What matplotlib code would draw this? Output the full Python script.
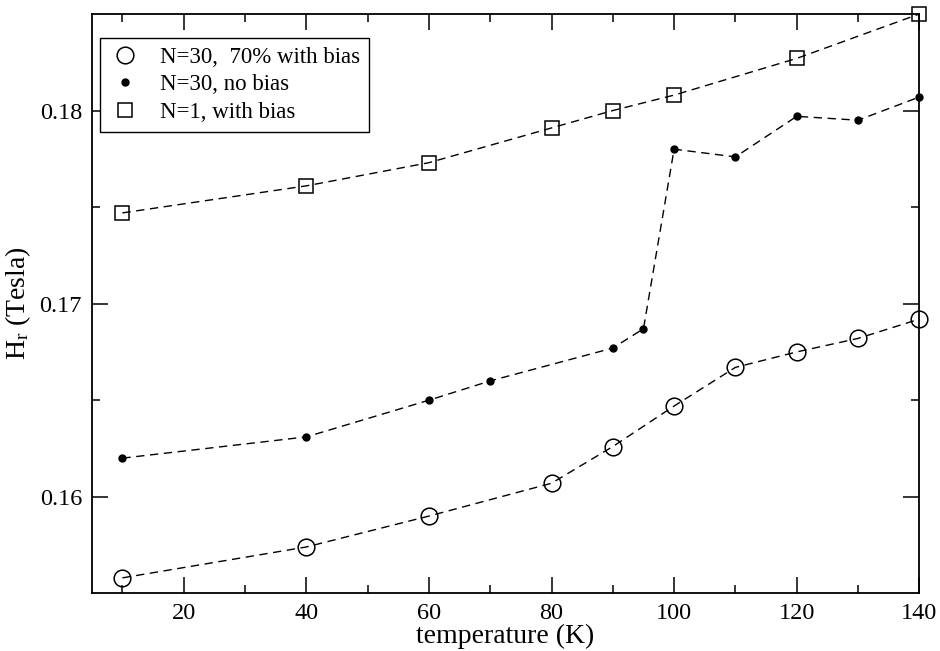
import matplotlib
matplotlib.use("Agg")
from matplotlib import pyplot as plt

# data
temp_bias30 = [10, 40, 60, 80, 90, 100, 110, 120, 130, 140]
hr_bias30 = [0.1558, 0.1574, 0.1590, 0.1607, 0.1626, 0.1647, 0.1667, 0.1675, 0.1682, 0.1692]

temp_nobias = [10, 40, 60, 70, 90, 95, 100, 110, 120, 130, 140]
hr_nobias = [0.1620, 0.1631, 0.1650, 0.1660, 0.1677, 0.1687, 0.1780, 0.1776, 0.1797, 0.1795, 0.1807]

temp_n1 = [10, 40, 60, 80, 90, 100, 120, 140]
hr_n1 = [0.1747, 0.1761, 0.1773, 0.1791, 0.1800, 0.1808, 0.1827, 0.1850]

plt.rcParams['font.family'] = ['Liberation Serif', 'DejaVu Serif']
plt.rcParams['mathtext.fontset'] = 'custom'
plt.rcParams['mathtext.rm'] = 'Liberation Serif'
plt.rcParams['mathtext.it'] = 'Liberation Serif:italic'

fig = plt.figure(figsize=(9.4, 6.51), dpi=100)
ax = fig.add_axes([0.0976, 0.0886, 0.8804, 0.8899])

dash = (0, (6, 4))
ax.plot(temp_bias30, hr_bias30, color='black', lw=1.0, linestyle=dash,
        marker='o', ms=12, mfc='none', mec='black', mew=1.1,
        label='N=30,  70% with bias', clip_on=False)
ax.plot(temp_nobias, hr_nobias, color='black', lw=1.0, linestyle=dash,
        marker='o', ms=5, mfc='black', mec='black',
        label='N=30, no bias', clip_on=False)
ax.plot(temp_n1, hr_n1, color='black', lw=1.0, linestyle=dash,
        marker='s', ms=10, mfc='none', mec='black', mew=1.1,
        label='N=1, with bias', clip_on=False)

ax.set_xlim(5, 140)
ax.set_ylim(0.155, 0.185)
ax.set_xticks([20, 40, 60, 80, 100, 120, 140])
ax.set_xticks(range(10, 140, 10), minor=True)
ax.set_yticks([0.16, 0.17, 0.18])
ax.set_yticks([0.165, 0.175], minor=True)

ax.tick_params(which='both', direction='in', top=True, right=True,
               labelsize=17.5, width=1.1, pad=7)
ax.tick_params(which='major', length=11.5)
ax.tick_params(which='minor', length=6)
for s in ax.spines.values():
    s.set_linewidth(1.3)

ax.set_xlabel("temperature (K)", fontsize=20, labelpad=0)
ax.set_ylabel(r"H$_\mathrm{r}$ (Tesla)", fontsize=20, labelpad=5)

leg = ax.legend(loc='upper left', bbox_to_anchor=(0.010, 0.9586),
                borderaxespad=0, fontsize=16.5, fancybox=False,
                edgecolor='black', framealpha=1, handlelength=1.4,
                handletextpad=0.8, labelspacing=0.27, borderpad=0.4)
leg.get_frame().set_linewidth(1.0)
for line in leg.get_lines():
    line.set_linestyle('none')

fig.savefig("out.png", dpi=100)
